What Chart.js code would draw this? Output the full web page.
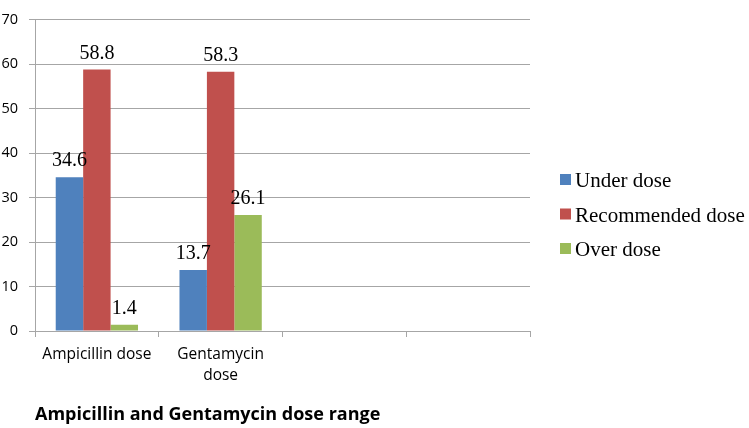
<!DOCTYPE html>
<html><head><meta charset="utf-8">
<script src="https://cdn.jsdelivr.net/npm/chart.js@4"></script>
<style>html,body{margin:0;padding:0;background:#fff}#wrap{width:749px;height:428px}</style>
</head><body><div id="wrap"><canvas id="c" width="749" height="428"></canvas></div>
<script>
const categories = ["Ampicillin dose", ["Gentamycin", "dose"], "", ""];
const seriesNames = ["Under dose", "Recommended dose", "Over dose"];
const underDose = [34.6, 13.7, null, null];
const recommendedDose = [58.8, 58.3, null, null];
const overDose = [1.4, 26.1, null, null];
const yMin = 0, yMax = 70, yStep = 10;
const chartTitle = "Ampicillin and Gentamycin dose range";
const seriesColors = ["#4F81BD", "#C0504D", "#9BBB59"];

const gridColor = "#a6a6a6";

const valueLabels = {
  id: 'valueLabels',
  afterDatasetsDraw(chart) {
    const ctx = chart.ctx;
    ctx.save();
    ctx.font = '20px "Liberation Serif"';
    ctx.fillStyle = '#000';
    ctx.textAlign = 'center';
    ctx.textBaseline = 'alphabetic';
    chart.data.datasets.forEach((ds, i) => {
      const meta = chart.getDatasetMeta(i);
      meta.data.forEach((el, j) => {
        const v = ds.data[j];
        if (v == null) return;
        ctx.fillText(v.toFixed(1), el.x, el.y - 11);
      });
    });
    ctx.restore();
  }
};

const sideLegend = {
  id: 'sideLegend',
  afterDraw(chart) {
    const ctx = chart.ctx;
    const x0 = chart.chartArea.right + 30;
    const midY = chart.height / 2;
    const gap = 34.5;
    const n = chart.data.datasets.length;
    ctx.save();
    ctx.font = '21px "Liberation Serif"';
    ctx.textAlign = 'left';
    ctx.textBaseline = 'alphabetic';
    chart.data.datasets.forEach((ds, i) => {
      const cy = midY + (i - (n - 1) / 2) * gap;
      ctx.fillStyle = ds.backgroundColor;
      ctx.fillRect(x0, cy - 5.5, 11, 11);
      ctx.fillStyle = '#000';
      ctx.fillText(ds.label, x0 + 15, cy + 7.5);
    });
    ctx.restore();
  }
};

const seriesData = [underDose, recommendedDose, overDose];

new Chart(document.getElementById('c'), {
  type: 'bar',
  data: {
    labels: categories,
    datasets: seriesNames.map((name, i) => ({
      label: name,
      data: seriesData[i],
      backgroundColor: seriesColors[i],
      borderWidth: 0,
      barPercentage: 1,
      categoryPercentage: 0.665
    }))
  },
  options: {
    responsive: false,
    animation: false,
    devicePixelRatio: 1,
    layout: { padding: { left: 0, right: 219, top: 6, bottom: 0 } },
    plugins: {
      legend: { display: false },
      tooltip: { enabled: false },
      title: { display: false }
    },
    scales: {
      x: {
        offset: true,
        afterFit(scale) { scale.height = 97; },
        grid: { offset: true, drawOnChartArea: false, drawTicks: true, tickLength: 6, color: gridColor },
        border: { color: gridColor },
        ticks: {
          font: { family: '"Open Sans"', size: 15.5, lineHeight: 1.35 },
          color: '#000',
          padding: 7.5,
          maxRotation: 0,
          minRotation: 0,
          autoSkip: false
        },
        title: {
          display: true,
          text: chartTitle,
          align: 'start',
          color: '#000',
          font: { family: '"Open Sans"', size: 18, weight: 'bold' },
          padding: { top: 0, bottom: 2 }
        }
      },
      y: {
        min: yMin,
        max: yMax,
        afterFit(scale) { scale.width = 35; },
        grid: { color: gridColor, tickLength: 6 },
        border: { color: gridColor },
        ticks: {
          stepSize: yStep,
          font: { family: '"Open Sans"', size: 14.5 },
          color: '#000',
          padding: 11
        }
      }
    }
  },
  plugins: [valueLabels, sideLegend]
});
</script>
</body></html>
